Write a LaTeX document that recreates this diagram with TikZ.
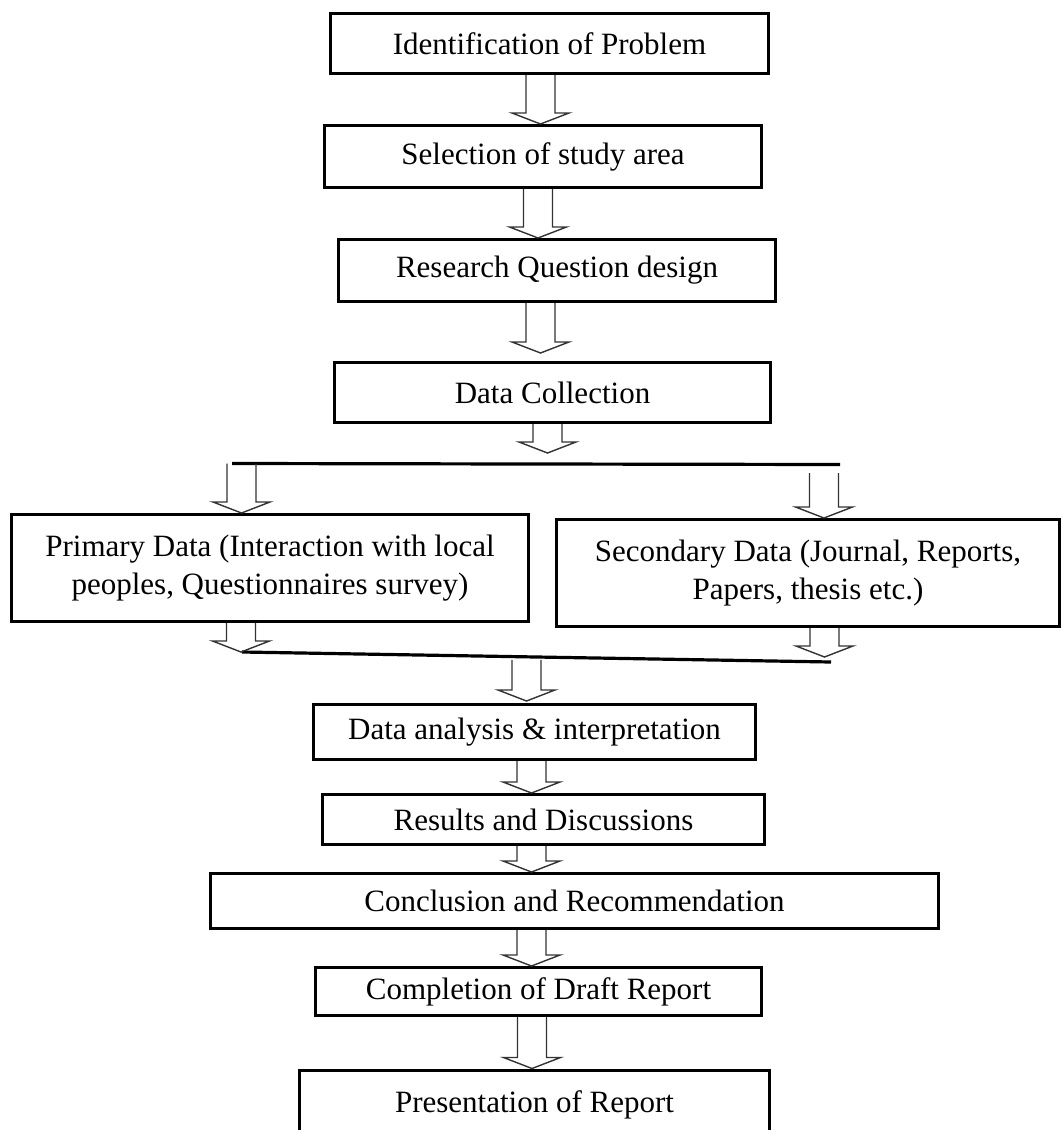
\documentclass[tikz,border=0pt]{standalone}
\usepackage{fontspec}
\setmainfont{Liberation Serif}
\usetikzlibrary{calc}
\tikzset{
  box/.style={draw, line width=3pt, inner sep=0pt, align=center,
    font=\fontsize{31}{38}\selectfont},
  blockarrow/.style={draw=black!80, line width=1.4pt, line join=miter},
  bar/.style={line width=3.2pt}
}
\newcommand\blk[3]{%
  \draw[blockarrow] let \p1=(#2), \p2=(#3) in
    (#1pt-14.5pt,\y1) -- (#1pt-14.5pt,\y2+11pt) -- (#1pt-28.5pt,\y2+11pt)
    -- (#1pt,\y2) -- (#1pt+28.5pt,\y2+11pt) -- (#1pt+14.5pt,\y2+11pt)
    -- (#1pt+14.5pt,\y1);}
\begin{document}
\begin{tikzpicture}[x=1pt,y=-1pt]
\useasboundingbox (0,0) rectangle (1063,1130);
\clip (0,0) rectangle (1063,1130);
\fill[white] (0,0) rectangle (1063,1130);

\node[box, minimum width=438pt, minimum height=60pt] (b1) at (549.5,43.5) {Identification of Problem};
\node[box, minimum width=437pt, minimum height=62pt] (b2) at (543,156.5) {Selection of study area};
\node[box, minimum width=437pt, minimum height=62pt] (b3) at (557,270.5) {Research Question design};
\node[box, minimum width=436pt, minimum height=60pt] (b4) at (552.5,392.5) {Data Collection};
\node[box, minimum width=517pt, minimum height=107pt] (b5) at (270,568) {Primary Data (Interaction with local\\peoples, Questionnaires survey)};
\node[box, minimum width=503pt, minimum height=107pt] (b6) at (808,573) {Secondary Data (Journal, Reports,\\Papers, thesis etc.)};
\node[box, minimum width=442pt, minimum height=55pt] (b7) at (534.5,732) {Data analysis \& interpretation};
\node[box, minimum width=442pt, minimum height=50pt] (b8) at (543.5,819.5) {Results and Discussions};
\node[box, minimum width=728pt, minimum height=55pt] (b9) at (574.5,901) {Conclusion and Recommendation};
\node[box, minimum width=446pt, minimum height=48pt] (b10) at (538.5,991.5) {Completion of Draft Report};
\node[box, minimum width=470pt, minimum height=70pt] (b11) at (534.5,1105) {\raisebox{7pt}{Presentation of Report}};

\coordinate (t1) at (232,463.5);
\coordinate (t2) at (840,464.5);
\draw[bar] (t1) -- (t2);
\coordinate (u1) at (242,652);
\coordinate (u2) at (831,662);
\draw[bar] (u1) -- (u2);

\blk{540.5}{b1.south}{b2.north}
\blk{538}{b2.south}{b3.north}
\blk{540.5}{b3.south}{$(b4.north)+(0,-8)$}
\blk{547.5}{b4.south}{$(t1)+(0,-10.5)$}
\blk{241.5}{t1}{b5.north}
\blk{824}{$(t2)+(0,8.5)$}{b6.north}
\blk{241}{b5.south}{u1}
\blk{824.5}{b6.south}{$(u2)+(0,-5)$}
\blk{526.5}{$(u1)!0.48!(u2)+(0,3)$}{$(b7.north)+(0,-2)$}
\blk{531.5}{b7.south}{b8.north}
\blk{531.5}{b8.south}{b9.north}
\blk{531.5}{b9.south}{b10.north}
\blk{532}{b10.south}{b11.north}
\end{tikzpicture}
\end{document}
